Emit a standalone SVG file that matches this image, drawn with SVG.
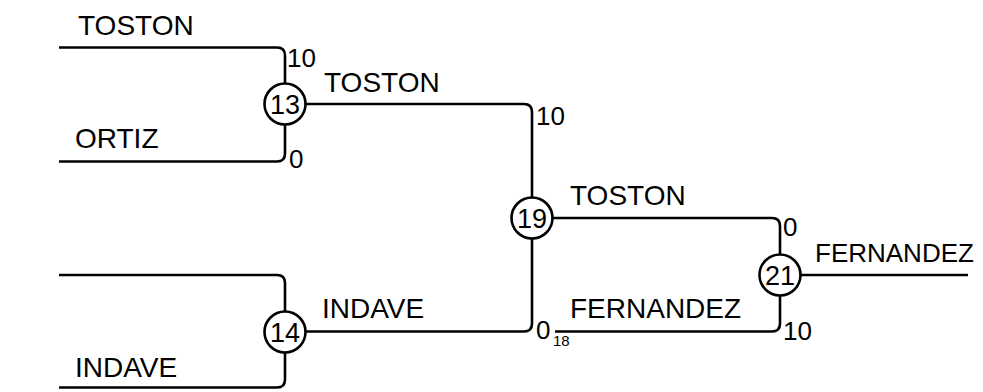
<svg xmlns="http://www.w3.org/2000/svg" width="983" height="392" viewBox="0 0 983 392">
<style>
.l{fill:none;stroke:#000;stroke-width:2.6}
.c{fill:#fff;stroke:#000;stroke-width:2.6}
text{font-family:"Liberation Sans",Arial,sans-serif;fill:#000}
.t{font-size:28px}
.v{font-size:26px}
.n{font-size:27px;text-anchor:middle}
.s{font-size:15px}
</style>
<rect width="983" height="392" fill="#fff"/>
<g id="connectors">
<path class="l" d="M59,47.5 H277 Q285,47.5 285,55.5 V84"/>
<path class="l" d="M59,161.5 H277 Q285,161.5 285,153.5 V124"/>
<path class="l" d="M59,275 H277 Q285,275 285,283 V312"/>
<path class="l" d="M59,387.5 H277 Q285,387.5 285,379.5 V352"/>
<path class="l" d="M305,104 H524 Q532,104 532,112 V198"/>
<path class="l" d="M305,331.5 H524 Q532,331.5 532,323.5 V238"/>
<path class="l" d="M552,218 H772 Q780,218 780,226 V255"/>
<path class="l" d="M555,331.5 H772 Q780,331.5 780,323.5 V295"/>
<path class="l" d="M800,275 H968"/>
</g>
<g id="labels">
<text class="t" x="78" y="35">TOSTON</text>
<text class="v" x="287" y="67">10</text>
<text class="t" x="75" y="148">ORTIZ</text>
<text class="v" x="289" y="168">0</text>
<text class="t" x="75" y="377">INDAVE</text>
<text class="t" x="324" y="92">TOSTON</text>
<text class="v" x="536" y="125">10</text>
<text class="t" x="322" y="318">INDAVE</text>
<text class="v" x="536" y="339">0</text>
<text class="s" x="553" y="346">18</text>
<text class="t" x="570" y="205">TOSTON</text>
<text class="t" x="570" y="318">FERNANDEZ</text>
<text class="v" x="783" y="236">0</text>
<text class="v" x="783" y="340">10</text>
<text x="815" y="262" font-size="26px">FERNANDEZ</text>
</g>
<g id="node13"><circle class="c" cx="285" cy="104" r="20.5"/><text class="n" x="285" y="114">13</text></g>
<g id="node14"><circle class="c" cx="285" cy="332" r="20.5"/><text class="n" x="285" y="342">14</text></g>
<g id="node19"><circle class="c" cx="532" cy="218" r="20.5"/><text class="n" x="532" y="228">19</text></g>
<g id="node21"><circle class="c" cx="780" cy="275" r="20.5"/><text class="n" x="780" y="285">21</text></g>
</svg>
